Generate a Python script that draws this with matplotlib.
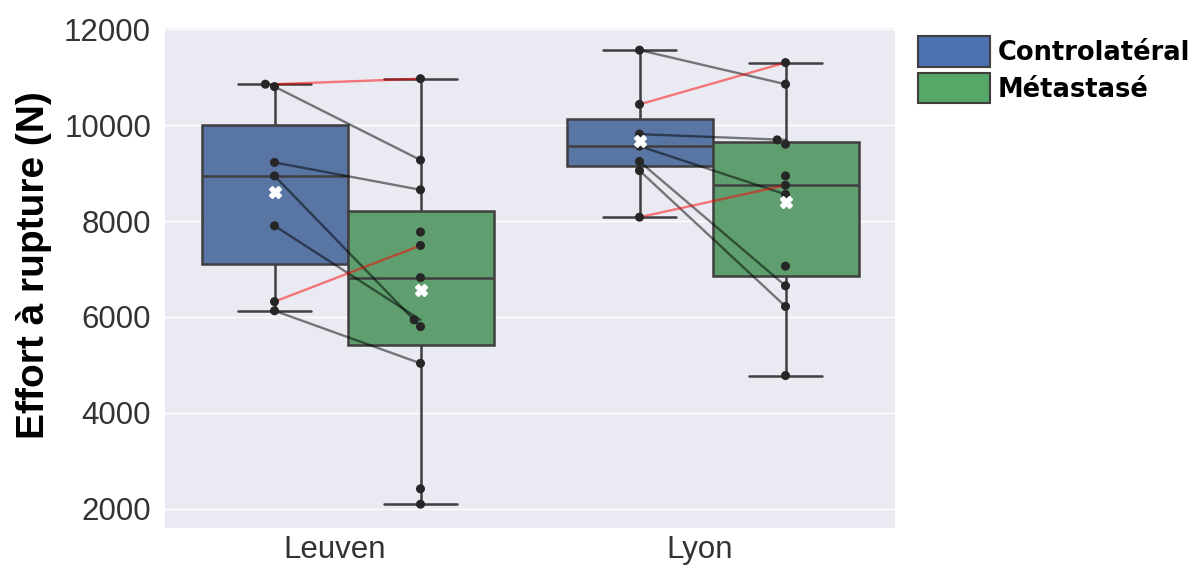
"""Effort à rupture: contralateral vs metastatic femurs, Leuven and Lyon cohorts."""

import matplotlib

matplotlib.use("Agg")

import matplotlib.pyplot as plt
import matplotlib.transforms as mtransforms
import numpy as np
import pandas as pd
import seaborn as sns
from matplotlib.patches import Patch

SITES = ["Leuven", "Lyon"]
GROUPS = ["Controlatéral", "Métastasé"]

# values (N). The first N_PAIRS entries of each
# metastatic list are paired with the control entry of the same index.
LEUVEN_CONTROL = [10850, 10800, 9220, 8940, 7900, 6320, 6130]
LEUVEN_META = [10965, 9270, 8650, 5800, 5940, 7490, 5035, 7770, 6820, 2420, 2100]
LYON_CONTROL = [11560, 10430, 9810, 9560, 9240, 9050, 8080]
LYON_META = [10850, 11300, 9690, 8555, 6650, 6220, 8745, 9600, 8940, 7060, 4780]
N_PAIRS = 7

Y_TICKS = [2000, 4000, 6000, 8000, 10000, 12000]

BLUE = "#4C72B0"
GREEN = "#55A868"
EDGE = "#3f3f3f"


def _long_frame():
    rows = []
    for site, ctrl, meta in (
        ("Leuven", LEUVEN_CONTROL, LEUVEN_META),
        ("Lyon", LYON_CONTROL, LYON_META),
    ):
        rows += [(site, GROUPS[0], v) for v in ctrl]
        rows += [(site, GROUPS[1], v) for v in meta]
    return pd.DataFrame(rows, columns=["site", "groupe", "effort"])


sns.set_theme(style="darkgrid")
plt.rcParams["font.family"] = ["Liberation Sans", "DejaVu Sans"]

df = _long_frame()

fig = plt.figure(figsize=(11.98, 5.69), dpi=100)
ax = fig.add_axes([165 / 1198, 1 - 528 / 569, 730 / 1198, 500 / 569])

sns.boxplot(
    data=df, x="site", y="effort", hue="groupe", order=SITES, hue_order=GROUPS,
    palette=[BLUE, GREEN], width=0.8, linewidth=1.8, linecolor=EDGE,
    whis=1.5, showmeans=True, legend=False, ax=ax,
    meanprops=dict(marker="X", markerfacecolor="white", markeredgecolor="white",
                   markersize=9, zorder=6),
)

# paired lines: red when the metastatic side is stronger
for i, (ctrl, meta) in enumerate(((LEUVEN_CONTROL, LEUVEN_META), (LYON_CONTROL, LYON_META))):
    for c, m in zip(ctrl[:N_PAIRS], meta[:N_PAIRS]):
        col = "red" if m > c else "black"
        ax.plot([i - 0.2, i + 0.2], [c, m], color=col, alpha=0.5, lw=1.7, zorder=4)

sns.swarmplot(
    data=df, x="site", y="effort", hue="groupe", order=SITES, hue_order=GROUPS,
    palette=["#262626", "#262626"], dodge=True, size=6.5, legend=False,
    ax=ax, zorder=5,
)

ax.set_ylim(1604, 12021)
ax.set_yticks(Y_TICKS)
ax.set_xlim(-0.5, 1.5)
ax.set_xlabel("")
ax.set_ylabel("Effort à rupture (N)", fontsize=28, fontweight="bold", color="black")
ax.yaxis.set_label_coords(-0.155, 0.526)
ax.tick_params(axis="both", labelsize=22.5, colors="#333333", length=0, pad=10)
ax.tick_params(axis="x", pad=5)
for lab in ax.get_xticklabels():
    lab.set_transform(lab.get_transform() + mtransforms.ScaledTranslation(-0.13, 0, fig.dpi_scale_trans))
for s in ax.spines.values():
    s.set_visible(False)

handles = [Patch(facecolor=BLUE, edgecolor=EDGE, linewidth=1.5),
           Patch(facecolor=GREEN, edgecolor=EDGE, linewidth=1.5)]
fig.legend(
    handles, GROUPS, loc="upper left", bbox_to_anchor=(918 / 1198, 1 - 36 / 569),
    bbox_transform=fig.transFigure, frameon=False, borderpad=0, borderaxespad=0,
    handlelength=2.8, handleheight=1.45, handletextpad=0.3, labelspacing=0.25,
    labelcolor="black", prop=dict(family="DejaVu Sans", weight="bold", size=18.5),
)

fig.savefig("out.png", dpi=100)
